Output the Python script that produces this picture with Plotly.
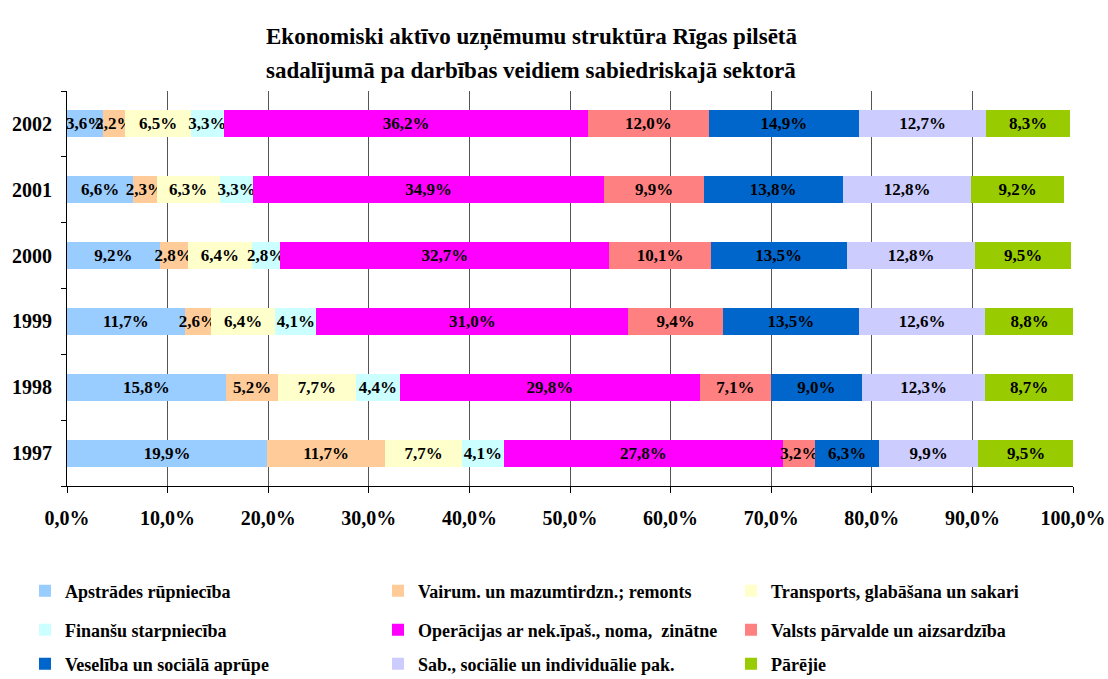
import plotly.graph_objects as go

years = ["1997", "1998", "1999", "2000", "2001", "2002"]

apstrades = [19.9, 15.8, 11.7, 9.2, 6.6, 3.6]
vairum = [11.7, 5.2, 2.6, 2.8, 2.3, 2.2]
transports = [7.7, 7.7, 6.4, 6.4, 6.3, 6.5]
finansu = [4.1, 4.4, 4.1, 2.8, 3.3, 3.3]
operacijas = [27.8, 29.8, 31.0, 32.7, 34.9, 36.2]
valsts = [3.2, 7.1, 9.4, 10.1, 9.9, 12.0]
veseliba = [6.3, 9.0, 13.5, 13.5, 13.8, 14.9]
sab = [9.9, 12.3, 12.6, 12.8, 12.8, 12.7]
parejie = [9.5, 8.7, 8.8, 9.5, 9.2, 8.3]

series = [
    ("Apstrādes rūpniecība", apstrades, "#99CCFF", "legend"),
    ("Vairum. un mazumtirdzn.; remonts", vairum, "#FFCC99", "legend"),
    ("Transports, glabāšana un sakari", transports, "#FFFFCC", "legend"),
    ("Finanšu starpniecība", finansu, "#CCFFFF", "legend2"),
    ("Operācijas ar nek.īpaš., noma,  zinātne", operacijas, "#FF00FF", "legend2"),
    ("Valsts pārvalde un aizsardzība", valsts, "#FF8080", "legend2"),
    ("Veselība un sociālā aprūpe", veseliba, "#0066CC", "legend3"),
    ("Sab., sociālie un individuālie pak.", sab, "#CCCCFF", "legend3"),
    ("Pārējie", parejie, "#99CC00", "legend3"),
]

FONT = "Liberation Serif"

fig = go.Figure()
for name, vals, color, leg in series:
    fig.add_trace(go.Bar(
        name=name, x=vals, y=years, orientation="h",
        marker=dict(color=color, line=dict(width=0)),
        texttemplate="%{x:.1f}%", textposition="inside", textangle=0,
        insidetextanchor="middle", constraintext="none",
        textfont=dict(family=FONT, size=17, color="black", weight="bold"),
        legend=leg, hoverinfo="skip",
    ))

# plot area occupies y pixels 91..486 (395 px), x pixels 67..1073 (1006 px)
def ypaper(px):
    return (486 - px) / 395

def xpaper(px):
    return (px - 67) / 1006

leg_common = dict(
    orientation="h", x=xpaper(25), xanchor="left", yanchor="middle",
    traceorder="normal",
    entrywidth=308, entrywidthmode="pixels",
    font=dict(family=FONT, size=18, color="black", weight="bold"),
    bgcolor="rgba(0,0,0,0)", itemwidth=30,
)

fig.update_layout(
    width=1108, height=679,
    margin=dict(l=67, r=35, t=91, b=193, autoexpand=False),
    barmode="stack", bargap=0.59,
    separators=", ",
    plot_bgcolor="white", paper_bgcolor="white",
    font=dict(family=FONT, color="black"),
    legend=dict(y=ypaper(591), **leg_common),
    legend2=dict(y=ypaper(630), **leg_common),
    legend3=dict(y=ypaper(664), **leg_common),
    xaxis=dict(
        range=[0, 100], dtick=10, tickformat=".1f", ticksuffix="%",
        showgrid=True, gridcolor="#555555", gridwidth=1,
        showline=True, linecolor="black", linewidth=1,
        ticks="outside", ticklen=6, tickcolor="black",
        ticklabelstandoff=8,
        tickfont=dict(family=FONT, size=20, color="black", weight="bold"),
        zeroline=False, fixedrange=True,
    ),
    yaxis=dict(
        categoryorder="array", categoryarray=years,
        showline=True, linecolor="black", linewidth=1,
        ticks="outside", ticklen=5, tickcolor="black",
        tickson="boundaries", ticklabelstandoff=10,
        tickfont=dict(family=FONT, size=20, color="black", weight="bold"),
        showgrid=False, fixedrange=True,
    ),
    annotations=[
        dict(text="Ekonomiski aktīvo uzņēmumu struktūra Rīgas pilsētā",
             xref="paper", yref="paper", x=xpaper(531), y=ypaper(22),
             showarrow=False,
             font=dict(family=FONT, size=23, color="black", weight="bold")),
        dict(text="sadalījumā pa darbības veidiem sabiedriskajā sektorā",
             xref="paper", yref="paper", x=xpaper(531), y=ypaper(56),
             showarrow=False,
             font=dict(family=FONT, size=23, color="black", weight="bold")),
    ],
)

fig.write_html("out.html")
